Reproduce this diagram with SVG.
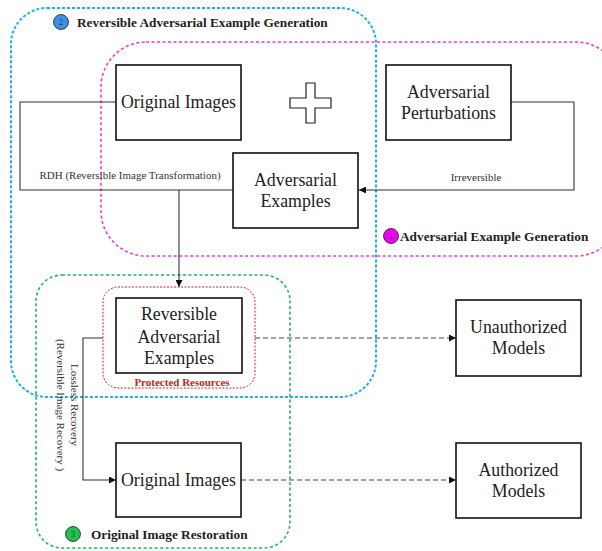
<svg xmlns="http://www.w3.org/2000/svg" width="602" height="551" viewBox="0 0 602 551">
<defs>
<marker id="arr" viewBox="0 0 10 10" refX="10" refY="5" markerWidth="7" markerHeight="7" markerUnits="userSpaceOnUse" orient="auto">
<path d="M0,0 L10,5 L0,10 z" fill="#111"/>
</marker>
<style>
.box{fill:#fff;stroke:#111;stroke-width:1.6}
.nt{font-family:"Liberation Serif","Times New Roman",serif;font-size:17.8px;fill:#222;text-anchor:middle}
.ln{fill:none;stroke:#333;stroke-width:1.1}
.dl{fill:none;stroke:#444;stroke-width:1.1;stroke-dasharray:5,3}
.lbl{font-family:"Liberation Serif","Times New Roman",serif;font-size:11px;fill:#333;text-anchor:middle}
.ttl{font-family:"Liberation Serif","Times New Roman",serif;font-size:13.3px;font-weight:bold;fill:#222}
.num{font-family:"Liberation Serif","Times New Roman",serif;font-size:8px;fill:#333;text-anchor:middle}
</style>
</defs>
<rect width="602" height="551" fill="#fff"/>
<g id="regions">
<rect id="region-blue" x="11" y="8" width="365" height="389" rx="36" ry="36" fill="none" stroke="#1fb2ea" stroke-width="2" stroke-dasharray="3,2"/>
<rect id="region-magenta" x="101" y="42" width="520" height="214" rx="45" ry="45" fill="none" stroke="#ee3ccc" stroke-width="1.6" stroke-dasharray="3,2.5"/>
<rect id="region-green" x="36" y="275" width="254" height="273" rx="26" ry="26" fill="none" stroke="#1fb85a" stroke-width="1.6" stroke-dasharray="3,2.5"/>
</g>
<g id="connectors">
<polyline class="ln" points="116,102 20,102 20,190 233,190"/>
<text class="lbl" x="130" y="179">RDH (Reversible Image Transformation)</text>
<line class="ln" x1="179" y1="190" x2="179" y2="287" marker-end="url(#arr)"/>
<polyline class="ln" points="511,102 574,102 574,190 359,190" marker-end="url(#arr)"/>
<text class="lbl" x="476" y="181">Irreversible</text>
<polyline class="ln" points="103,338 83,338 83,480 116,480" marker-end="url(#arr)"/>
<text class="lbl" transform="translate(71,405) rotate(90)" x="0" y="0">Lossless Recovery</text>
<text class="lbl" transform="translate(57,405) rotate(90)" x="0" y="0">(Reversible Image Recovery )</text>
<line class="dl" x1="255" y1="338" x2="456" y2="338" marker-end="url(#arr)"/>
<line class="dl" x1="241" y1="480" x2="456" y2="480" marker-end="url(#arr)"/>
</g>
<g id="title-2">
<circle cx="61" cy="22" r="7.5" fill="#3d8fe6" stroke="#222" stroke-width="0.8"/>
<text class="num" x="61" y="25">2</text>
<text class="ttl" x="77" y="27">Reversible Adversarial Example Generation</text>
</g>
<g id="title-1">
<circle cx="391" cy="236" r="7.5" fill="#f000f0" stroke="#222" stroke-width="0.8"/>
<text class="num" x="391" y="239">1</text>
<text class="ttl" x="400" y="241">Adversarial Example Generation</text>
</g>
<g id="title-3">
<circle cx="73" cy="534" r="7.5" fill="#22c050" stroke="#222" stroke-width="0.8"/>
<text class="num" x="73" y="537">3</text>
<text class="ttl" x="91" y="539">Original Image Restoration</text>
</g>
<g id="plus">
<path d="M306,83 H315 V98 H331 V108 H315 V123 H306 V108 H290 V98 H306 Z" fill="#fff" stroke="#222" stroke-width="1.2"/>
</g>
<g id="original-images-top">
<rect class="box" x="116" y="65" width="125" height="75"/>
<text class="nt" x="178.5" y="108">Original Images</text>
</g>
<g id="adversarial-perturbations">
<rect class="box" x="386" y="65" width="125" height="75"/>
<text class="nt" x="448.5" y="98">Adversarial</text>
<text class="nt" x="448.5" y="118.5">Perturbations</text>
</g>
<g id="adversarial-examples">
<rect class="box" x="233" y="153" width="125" height="75"/>
<text class="nt" x="295.5" y="186">Adversarial</text>
<text class="nt" x="295.5" y="207">Examples</text>
</g>
<g id="protected-resources">
<rect x="103" y="287" width="152" height="101" rx="15" ry="15" fill="none" stroke="#d42020" stroke-width="1" stroke-dasharray="2,1.5"/>
<rect class="box" x="116" y="298" width="126" height="75"/>
<text class="nt" x="179" y="320">Reversible</text>
<text class="nt" x="179" y="342.5">Adversarial</text>
<text class="nt" x="179" y="364">Examples</text>
<text x="182" y="386" font-family="Liberation Serif, Times New Roman, serif" font-size="11" font-weight="bold" fill="#c82020" text-anchor="middle">Protected Resources</text>
</g>
<g id="original-images-bottom">
<rect class="box" x="116" y="443" width="125" height="74"/>
<text class="nt" x="178.5" y="486">Original Images</text>
</g>
<g id="unauthorized-models">
<rect class="box" x="456" y="300" width="125" height="76"/>
<text class="nt" x="518.5" y="333">Unauthorized</text>
<text class="nt" x="518.5" y="354">Models</text>
</g>
<g id="authorized-models">
<rect class="box" x="456" y="443" width="125" height="75"/>
<text class="nt" x="518.5" y="476">Authorized</text>
<text class="nt" x="518.5" y="497">Models</text>
</g>
</svg>
